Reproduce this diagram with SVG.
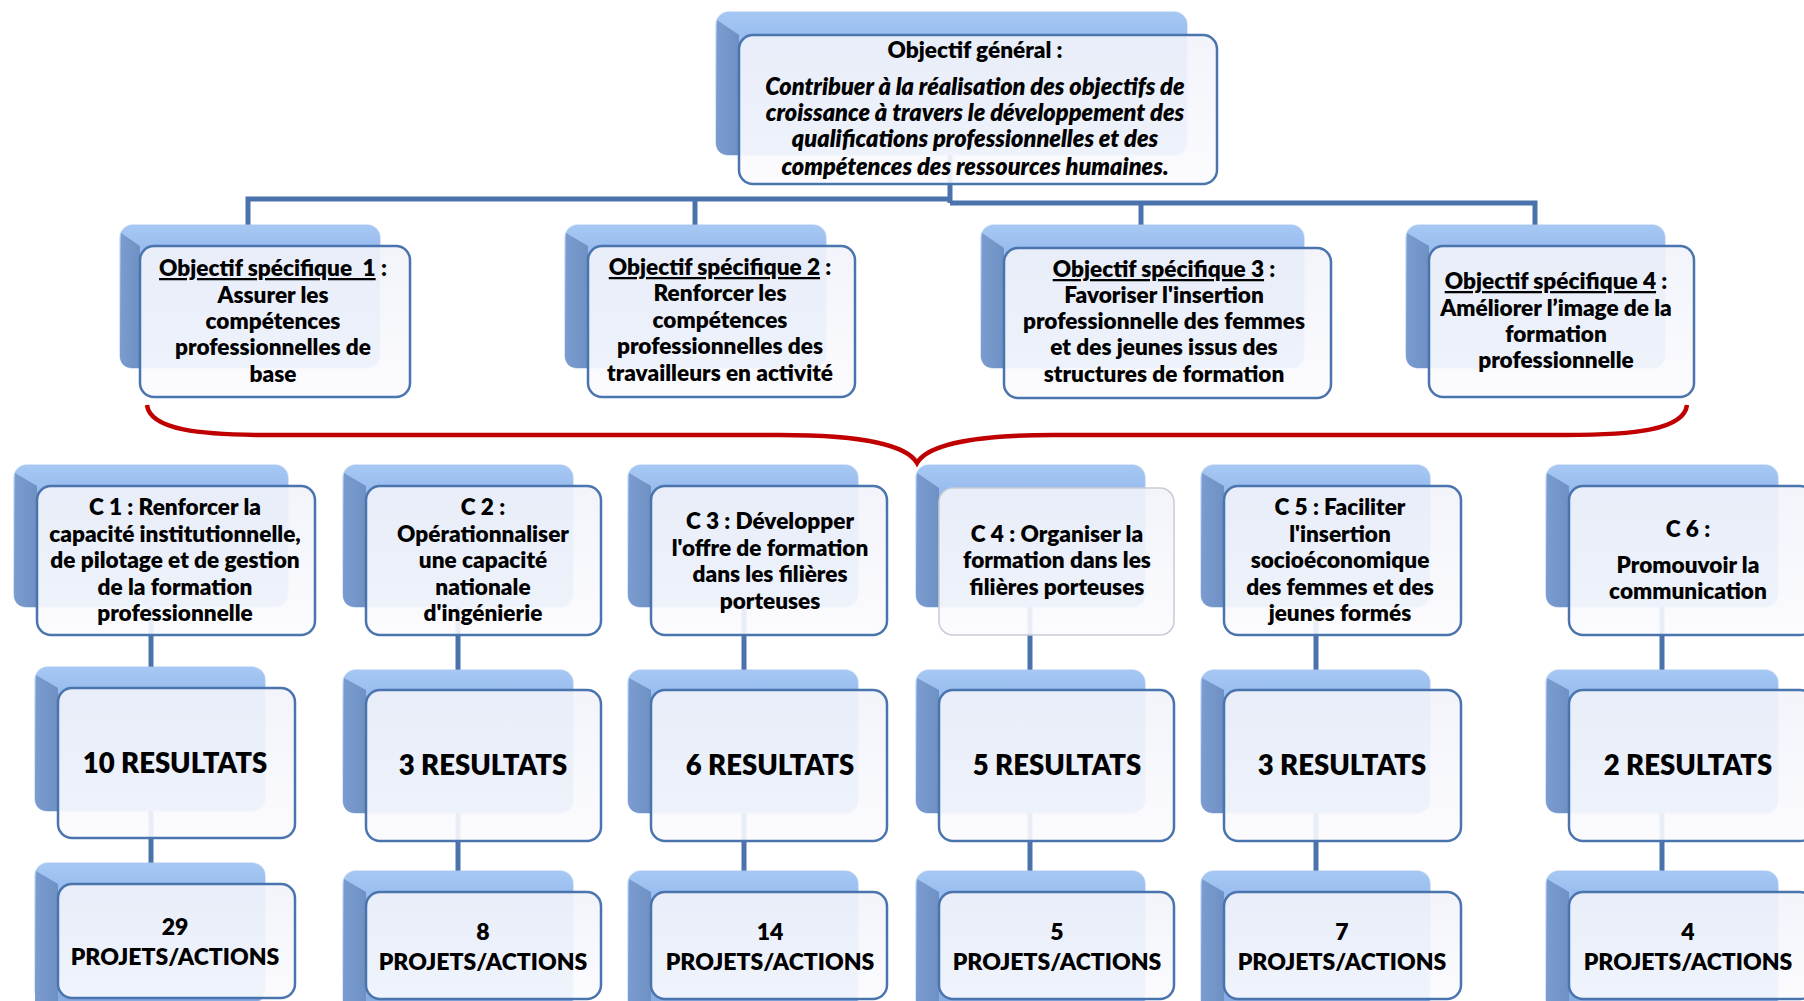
<svg xmlns="http://www.w3.org/2000/svg" width="1804" height="1001" viewBox="0 0 1804 1001">
<defs>
<linearGradient id="gTop" x1="0" y1="0" x2="0" y2="1">
<stop offset="0" stop-color="#A6C8F4"/>
<stop offset="0.25" stop-color="#92B7EC"/>
<stop offset="1" stop-color="#86ABE0"/>
</linearGradient>
<linearGradient id="gLeft" x1="0" y1="0" x2="1" y2="0">
<stop offset="0" stop-color="#7A9CD0"/>
<stop offset="1" stop-color="#6E90C3"/>
</linearGradient>
<linearGradient id="gFront" x1="0" y1="0" x2="0" y2="1">
<stop offset="0" stop-color="#F1F3FA"/>
<stop offset="1" stop-color="#FBFBFE"/>
</linearGradient>
</defs>
<style>
.back{fill:url(#gTop);stroke:#A8C4EC;stroke-width:1.5;stroke-opacity:0.6}
.bev{fill:url(#gLeft)}
.front{fill:url(#gFront);fill-opacity:0.9;stroke:#4A74AE;stroke-width:2.5}
.front.gray{stroke:#C8CCD4;stroke-width:1.5}
.con{stroke:#4A72AC;stroke-width:5;fill:none}
.brace{stroke:#C00000;stroke-width:4.5;fill:none}
text{font-family:Lato,"Open Sans","Liberation Sans",sans-serif;font-weight:800;fill:#000;text-anchor:middle}
.t{font-size:22.6px}
.gi{font-size:23.5px;font-style:italic}
.res{font-size:27.5px}
.pa{font-size:23px}
.u{text-decoration:underline}
</style>
<rect width="1804" height="1001" fill="#FFFFFF"/>

<g id="connectors">
<path class="con" d="M950,150 V203"/>
<path class="con" d="M248,225 V199 H950"/>
<path class="con" d="M695,225 V199"/>
<path class="con" d="M950,203 H1535 V225"/>
<path class="con" d="M1141,203 V225"/>
<path class="con" d="M151,600 V670"/>
<path class="con" d="M458,600 V672"/>
<path class="con" d="M744,600 V672"/>
<path class="con" d="M1030,600 V672"/>
<path class="con" d="M1316,600 V672"/>
<path class="con" d="M1662,600 V672"/>
<path class="con" d="M151,805 V865"/>
<path class="con" d="M458,805 V873"/>
<path class="con" d="M744,805 V873"/>
<path class="con" d="M1030,805 V873"/>
<path class="con" d="M1316,805 V873"/>
<path class="con" d="M1662,805 V873"/>
<path class="brace" d="M147,405 C150,430 200,435 270,435 L780,435 C870,435 908,447 917,463 C926,447 964,435 1054,435 L1565,435 C1634,435 1684,430 1687,405"/>
</g>

<g id="general">
<rect class="back" x="716" y="12" width="471" height="143" rx="13"/>
<path class="bev" d="M717,20 L739,35 V155 H729 Q716,155 716,142 Z"/>
<rect class="front" x="739" y="35" width="478" height="149" rx="14"/>
<text class="t" x="975" y="58">Objectif général :</text>
<text class="gi" x="975" y="95">Contribuer à la réalisation des objectifs de</text>
<text class="gi" x="975" y="121">croissance à travers le développement des</text>
<text class="gi" x="975" y="147">qualifications professionnelles et des</text>
<text class="gi" x="975" y="175">compétences des ressources humaines.</text>
</g>

<g id="os1">
<rect class="back" x="120" y="225" width="260" height="143" rx="13"/>
<path class="bev" d="M121,233 L140,246 V368 H133 Q120,368 120,355 Z"/>
<rect class="front" x="140" y="246" width="270" height="151" rx="14"/>
<text class="t" x="273" y="276"><tspan class="u">Objectif spécifique &#160;1</tspan> :</text>
<text class="t" x="273" y="303">Assurer les</text>
<text class="t" x="273" y="329">compétences</text>
<text class="t" x="273" y="355">professionnelles de</text>
<text class="t" x="273" y="382">base</text>
</g>

<g id="os2">
<rect class="back" x="565" y="225" width="261" height="143" rx="13"/>
<path class="bev" d="M566,233 L588,246 V368 H578 Q565,368 565,355 Z"/>
<rect class="front" x="588" y="246" width="267" height="151" rx="14"/>
<text class="t" x="720" y="275"><tspan class="u">Objectif spécifique 2</tspan> :</text>
<text class="t" x="720" y="301">Renforcer les</text>
<text class="t" x="720" y="328">compétences</text>
<text class="t" x="720" y="354">professionnelles des</text>
<text class="t" x="720" y="381">travailleurs en activité</text>
</g>

<g id="os3">
<rect class="back" x="981" y="225" width="323" height="143" rx="13"/>
<path class="bev" d="M982,233 L1004,248 V368 H994 Q981,368 981,355 Z"/>
<rect class="front" x="1004" y="248" width="327" height="150" rx="14"/>
<text class="t" x="1164" y="277"><tspan class="u">Objectif spécifique 3</tspan> :</text>
<text class="t" x="1164" y="303">Favoriser l'insertion</text>
<text class="t" x="1164" y="329">professionnelle des femmes</text>
<text class="t" x="1164" y="355">et des jeunes issus des</text>
<text class="t" x="1164" y="382">structures de formation</text>
</g>

<g id="os4">
<rect class="back" x="1406" y="225" width="259" height="143" rx="13"/>
<path class="bev" d="M1407,233 L1429,246 V368 H1419 Q1406,368 1406,355 Z"/>
<rect class="front" x="1429" y="246" width="265" height="151" rx="14"/>
<text class="t" x="1556" y="289"><tspan class="u">Objectif spécifique 4</tspan> :</text>
<text class="t" x="1556" y="316">Améliorer l’image de la</text>
<text class="t" x="1556" y="342">formation</text>
<text class="t" x="1556" y="368">professionnelle</text>
</g>

<g id="c1">
<rect class="back" x="14" y="465" width="274" height="142" rx="13"/>
<path class="bev" d="M15,473 L37,486 V607 H27 Q14,607 14,594 Z"/>
<rect class="front" x="37" y="486" width="278" height="149" rx="14"/>
<text class="t" x="175" y="515">C 1 : Renforcer la</text>
<text class="t" x="175" y="542">capacité institutionnelle,</text>
<text class="t" x="175" y="568">de pilotage et de gestion</text>
<text class="t" x="175" y="595">de la formation</text>
<text class="t" x="175" y="621">professionnelle</text>
</g>

<g id="c2">
<rect class="back" x="343" y="465" width="230" height="142" rx="13"/>
<path class="bev" d="M344,473 L366,486 V607 H356 Q343,607 343,594 Z"/>
<rect class="front" x="366" y="486" width="235" height="149" rx="14"/>
<text class="t" x="483" y="515">C 2 :</text>
<text class="t" x="483" y="542">Opérationnaliser</text>
<text class="t" x="483" y="568">une capacité</text>
<text class="t" x="483" y="595">nationale</text>
<text class="t" x="483" y="621">d'ingénierie</text>
</g>

<g id="c3">
<rect class="back" x="628" y="465" width="230" height="142" rx="13"/>
<path class="bev" d="M629,473 L651,486 V607 H641 Q628,607 628,594 Z"/>
<rect class="front" x="651" y="486" width="236" height="149" rx="14"/>
<text class="t" x="770" y="529">C 3 : Développer</text>
<text class="t" x="770" y="556">l'offre de formation</text>
<text class="t" x="770" y="582">dans les filières</text>
<text class="t" x="770" y="609">porteuses</text>
</g>

<g id="c4">
<rect class="back" x="916" y="465" width="229" height="142" rx="13"/>
<path class="bev" d="M917,473 L939,488 V607 H929 Q916,607 916,594 Z"/>
<rect class="front gray" x="939" y="488" width="235" height="147" rx="14"/>
<text class="t" x="1057" y="542">C 4 : Organiser la</text>
<text class="t" x="1057" y="568">formation dans les</text>
<text class="t" x="1057" y="595">filières porteuses</text>
</g>

<g id="c5">
<rect class="back" x="1201" y="465" width="229" height="142" rx="13"/>
<path class="bev" d="M1202,473 L1224,486 V607 H1214 Q1201,607 1201,594 Z"/>
<rect class="front" x="1224" y="486" width="237" height="149" rx="14"/>
<text class="t" x="1340" y="515">C 5 : Faciliter</text>
<text class="t" x="1340" y="542">l'insertion</text>
<text class="t" x="1340" y="568">socioéconomique</text>
<text class="t" x="1340" y="595">des femmes et des</text>
<text class="t" x="1340" y="621">jeunes formés</text>
</g>

<g id="c6">
<rect class="back" x="1546" y="465" width="232" height="142" rx="13"/>
<path class="bev" d="M1547,473 L1569,486 V607 H1559 Q1546,607 1546,594 Z"/>
<rect class="front" x="1569" y="486" width="245" height="149" rx="14"/>
<text class="t" x="1688" y="537">C 6 :</text>
<text class="t" x="1688" y="573">Promouvoir la</text>
<text class="t" x="1688" y="599">communication</text>
</g>

<g id="r1">
<rect class="back" x="35" y="667" width="230" height="144" rx="13"/>
<path class="bev" d="M36,675 L58,688 V811 H48 Q35,811 35,798 Z"/>
<rect class="front" x="58" y="688" width="237" height="150" rx="14"/>
<text class="res" x="175" y="773">10 RESULTATS</text>
</g>
<g id="r2">
<rect class="back" x="343" y="670" width="230" height="143" rx="13"/>
<path class="bev" d="M344,678 L366,690 V813 H356 Q343,813 343,800 Z"/>
<rect class="front" x="366" y="690" width="235" height="151" rx="14"/>
<text class="res" x="483" y="775">3 RESULTATS</text>
</g>
<g id="r3">
<rect class="back" x="628" y="670" width="230" height="143" rx="13"/>
<path class="bev" d="M629,678 L651,690 V813 H641 Q628,813 628,800 Z"/>
<rect class="front" x="651" y="690" width="236" height="151" rx="14"/>
<text class="res" x="770" y="775">6 RESULTATS</text>
</g>
<g id="r4">
<rect class="back" x="916" y="670" width="229" height="143" rx="13"/>
<path class="bev" d="M917,678 L939,690 V813 H929 Q916,813 916,800 Z"/>
<rect class="front" x="939" y="690" width="235" height="151" rx="14"/>
<text class="res" x="1057" y="775">5 RESULTATS</text>
</g>
<g id="r5">
<rect class="back" x="1201" y="670" width="229" height="143" rx="13"/>
<path class="bev" d="M1202,678 L1224,690 V813 H1214 Q1201,813 1201,800 Z"/>
<rect class="front" x="1224" y="690" width="237" height="151" rx="14"/>
<text class="res" x="1342" y="775">3 RESULTATS</text>
</g>
<g id="r6">
<rect class="back" x="1546" y="670" width="232" height="143" rx="13"/>
<path class="bev" d="M1547,678 L1569,690 V813 H1559 Q1546,813 1546,800 Z"/>
<rect class="front" x="1569" y="690" width="245" height="151" rx="14"/>
<text class="res" x="1688" y="775">2 RESULTATS</text>
</g>

<g id="p1">
<rect class="back" x="35" y="863" width="230" height="140" rx="13"/>
<path class="bev" d="M36,871 L58,884 V1003 H35 Z"/>
<rect class="front" x="58" y="884" width="237" height="114" rx="14"/>
<text class="pa" x="175" y="935">29</text>
<text class="pa" x="175" y="965">PROJETS/ACTIONS</text>
</g>
<g id="p2">
<rect class="back" x="343" y="871" width="230" height="140" rx="13"/>
<path class="bev" d="M344,879 L366,892 V1003 H343 Z"/>
<rect class="front" x="366" y="892" width="235" height="107" rx="14"/>
<text class="pa" x="483" y="940">8</text>
<text class="pa" x="483" y="970">PROJETS/ACTIONS</text>
</g>
<g id="p3">
<rect class="back" x="628" y="871" width="230" height="140" rx="13"/>
<path class="bev" d="M629,879 L651,892 V1003 H628 Z"/>
<rect class="front" x="651" y="892" width="236" height="107" rx="14"/>
<text class="pa" x="770" y="940">14</text>
<text class="pa" x="770" y="970">PROJETS/ACTIONS</text>
</g>
<g id="p4">
<rect class="back" x="916" y="871" width="229" height="140" rx="13"/>
<path class="bev" d="M917,879 L939,892 V1003 H916 Z"/>
<rect class="front" x="939" y="892" width="235" height="107" rx="14"/>
<text class="pa" x="1057" y="940">5</text>
<text class="pa" x="1057" y="970">PROJETS/ACTIONS</text>
</g>
<g id="p5">
<rect class="back" x="1201" y="871" width="229" height="140" rx="13"/>
<path class="bev" d="M1202,879 L1224,892 V1003 H1201 Z"/>
<rect class="front" x="1224" y="892" width="237" height="107" rx="14"/>
<text class="pa" x="1342" y="940">7</text>
<text class="pa" x="1342" y="970">PROJETS/ACTIONS</text>
</g>
<g id="p6">
<rect class="back" x="1546" y="871" width="232" height="140" rx="13"/>
<path class="bev" d="M1547,879 L1569,892 V1003 H1546 Z"/>
<rect class="front" x="1569" y="892" width="245" height="107" rx="14"/>
<text class="pa" x="1688" y="940">4</text>
<text class="pa" x="1688" y="970">PROJETS/ACTIONS</text>
</g>
</svg>
